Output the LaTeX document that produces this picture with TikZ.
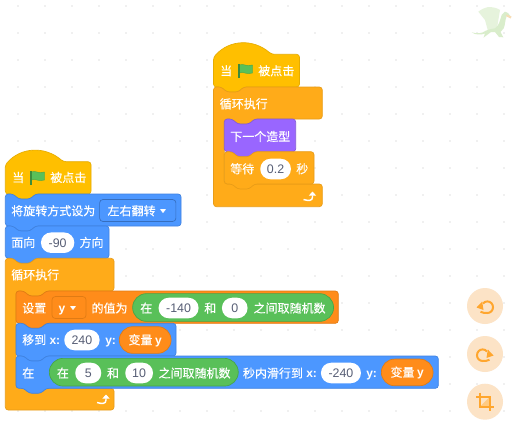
\documentclass[tikz,border=0pt]{standalone}
\usepackage{fontspec}
\setmainfont{Noto Sans CJK SC}[FakeBold=0.25]
\newfontfamily\numfont{Liberation Sans}
\usetikzlibrary{arrows.meta}
\definecolor{hatfill}{HTML}{FFBF00}
\definecolor{hatline}{HTML}{E6AC00}
\definecolor{controlfill}{HTML}{FFAB19}
\definecolor{controlline}{HTML}{E89C17}
\definecolor{motionfill}{HTML}{4C97FF}
\definecolor{motionline}{HTML}{3F82E0}
\definecolor{looksfill}{HTML}{9966FF}
\definecolor{looksline}{HTML}{855CD6}
\definecolor{varfill}{HTML}{FF8C1A}
\definecolor{varline}{HTML}{E07B14}
\definecolor{opfill}{HTML}{59C059}
\definecolor{opline}{HTML}{46A546}
\definecolor{numtext}{HTML}{575E75}
\definecolor{griddot}{HTML}{E2E2E2}
\definecolor{btnfill}{HTML}{FCE3C6}
\definecolor{btnicon}{HTML}{FFA62E}
\definecolor{dragonbody}{HTML}{D9EDCB}
\definecolor{dragonwing}{HTML}{E6F3DC}
\definecolor{dragonsnout}{HTML}{F8DDB5}
\tikzset{
  x=0.75pt, y=-0.75pt,
  hatblock/.style     = {fill=hatfill, draw=hatline, line width=0.5pt, rounded corners=2.2pt},
  controlblock/.style = {fill=controlfill, draw=controlline, line width=0.5pt, rounded corners=2.2pt},
  motionblock/.style  = {fill=motionfill, draw=motionline, line width=0.5pt, rounded corners=2.2pt},
  looksblock/.style   = {fill=looksfill, draw=looksline, line width=0.5pt, rounded corners=2.2pt},
  varblock/.style     = {fill=varfill, draw=varline, line width=0.5pt, rounded corners=2.2pt},
  lbl/.style      = {anchor=west, inner sep=0pt, text=white, font=\fontsize{9}{9}\selectfont,
                     text height=8pt, text depth=1.5pt},
  axislbl/.style  = {lbl, font=\fontsize{9}{9}\selectfont\numfont\bfseries},
  numpill/.style  = {anchor=west, rectangle, rounded corners=7.6pt, fill=white, inner sep=0pt,
                     minimum height=15.4pt, text=numtext, font=\fontsize{9.3}{9.3}\selectfont\numfont,
                     text height=6.5pt, text depth=0pt},
  opoval/.style   = {anchor=west, rectangle, rounded corners=10.4pt, fill=opfill, draw=opline,
                     line width=0.5pt, inner sep=0pt, minimum height=20.8pt},
  varoval/.style  = {anchor=west, rectangle, rounded corners=10pt, fill=varfill, draw=varline,
                     line width=0.5pt, inner sep=0pt, minimum width=38.8pt, minimum height=20pt,
                     text=white, font=\fontsize{9}{9}\selectfont, text height=8pt, text depth=1.5pt},
  menubox/.style  = {anchor=west, rectangle, rounded corners=2.5pt, line width=0.5pt, inner sep=0pt,
                     minimum height=16.5pt},
  flagpole/.style = {draw=opline!85!black, line width=1pt},
  flagcloth/.style= {fill=opfill, draw=opline, line width=0.3pt},
  looparrow/.style= {draw=white, line width=1.1pt, -{Triangle[length=3pt,width=5.2pt]}},
  menutip/.style  = {fill=white, draw=white, line width=0.4pt, line join=round},
  roundbtn/.style = {circle, fill=btnfill, inner sep=0pt, minimum size=27pt},
  iconline/.style = {draw=btnicon, line width=1.5pt},
}
% one block of a stack: left, top, right, bottom
\newcommand{\stackblock}[5]{
  \draw[#1] (#2,#3+10) -- (#2,#3) -- (#2+8,#3) -- (#2+13,#3+5) -- (#2+25,#3+5) -- (#2+30,#3)
    -- (#4,#3) -- (#4,#5) -- (#2+30,#5) -- (#2+25,#5+5) -- (#2+13,#5+5) -- (#2+8,#5)
    -- (#2,#5) -- cycle;
}
% hat block: left, top edge, right, bottom
\newcommand{\hatshape}[4]{
  \draw[hatblock] (#1,#2+8) -- (#1,#2+3) .. controls (#1+16,#2-15) and (#1+40,#2-15.5) .. (#1+58,#2)
    -- (#3,#2) -- (#3,#4) -- (#1+30,#4) -- (#1+25,#4+5) -- (#1+13,#4+5) -- (#1+8,#4)
    -- (#1,#4) -- cycle;
}
% loop block: left, top, right, header bottom, inner left, arm top, bottom
\newcommand{\loopshape}[7]{
  \draw[controlblock] (#1,#2+10) -- (#1,#2) -- (#1+8,#2) -- (#1+13,#2+5) -- (#1+25,#2+5) -- (#1+30,#2)
    -- (#3,#2) -- (#3,#4) -- (#5+30,#4) -- (#5+25,#4+5) -- (#5+13,#4+5) -- (#5+8,#4) -- (#5,#4)
    -- (#5,#6) -- (#3,#6) -- (#3,#7) -- (#1,#7) -- cycle;
}
% green flag with its left edge and top
\newcommand{\flagicon}[2]{
  \draw[flagcloth] (#1+1.5,#2+1) .. controls (#1+5,#2-1) and (#1+8,#2+3) .. (#1+14.5,#2+1)
    -- (#1+14.5,#2+9) .. controls (#1+8,#2+11) and (#1+5,#2+7) .. (#1+1.5,#2+9) -- cycle;
  \draw[flagpole] (#1+1,#2) -- (#1+1,#2+14);
}
% loop return arrow
\newcommand{\loopicon}[2]{
  \draw[looparrow] (#1,#2+7.5) .. controls (#1+5,#2+9) and (#1+9,#2+9) .. (#1+9,#2+5) -- (#1+9,#2-0.5);
}
\begin{document}
\begin{tikzpicture}
  \useasboundingbox (0,0) rectangle (517,425);
  \fill[white] (0,0) rectangle (517,425);

  % workspace dots
  \foreach \x in {18,45,...,504} {
    \foreach \y in {6,33,...,411} {
      \fill[griddot] (\x,\y) circle (0.7pt);
    }
  }

  % faint dragon
  \fill[dragonwing] (478.3,11.7) .. controls (482,9) and (485,7.5) .. (488,7)
    .. controls (493,7) and (497,8) .. (500,10) -- (497,28) -- (488,31) -- (485,20) -- cycle;
  \fill[dragonbody] (471.7,32.3) .. controls (475,33.5) and (480,33.5) .. (483,32.3)
    .. controls (486,30) and (491,29) .. (495,28.3) .. controls (499,26) and (500,20) .. (501.7,15)
    -- (505,11.7) -- (508,13) -- (511,17) -- (506.7,16) .. controls (505,20) and (505,26) .. (503.7,28.3)
    -- (500.5,32) -- (503.3,37.3) -- (499,37) -- (495,32) -- (491,32) -- (487,35) -- (483.5,37.7)
    -- (485,33.5) .. controls (481,35) and (475,35) .. (471.7,32.3) -- cycle;
  \fill[dragonsnout] (506,14.5) -- (511.5,16.5) -- (510.5,18.5) -- (506.5,16.5) -- cycle;

  % right hand stack
  \hatshape{213.5}{54.3}{299.5}{87}
  \loopshape{213.5}{87}{322.3}{119}{224.3}{184}{206.7}
  \stackblock{looksblock}{224.3}{119}{295.7}{151.7}
  \stackblock{controlblock}{224.3}{151.7}{314}{184}
  \node[lbl] (whenright) at (220,71) {当};
  \flagicon{238}{64}
  \node[lbl] (clickright) at (258,71) {被点击};
  \node[lbl] (foreverright) at (219.5,104) {循环执行};
  \node[lbl] (nextcostume) at (230,136.7) {下一个造型};
  \node[lbl] (waitword) at (230,169) {等待};
  \node[numpill, minimum width=23pt] (waitnum) at (260,169) {0.2};
  \node[lbl] (secword) at (296,169) {秒};
  \loopicon{303.5}{192}

  % left hand stack
  \hatshape{5.3}{161.7}{91}{194}
  \stackblock{motionblock}{5.3}{194}{181}{226}
  \stackblock{motionblock}{5.3}{226}{109}{258.3}
  \loopshape{5.3}{258.3}{114}{291}{16}{388.3}{410}
  \stackblock{varblock}{16}{291}{338.3}{323.3}
  \stackblock{motionblock}{16}{323.3}{176}{356}
  \stackblock{motionblock}{16}{356}{438.3}{388.3}
  \node[lbl] (whenleft) at (12,177.7) {当};
  \flagicon{30}{171}
  \node[lbl] (clickleft) at (50,177.7) {被点击};

  \node[lbl] (rotword) at (11,211) {将旋转方式设为};
  \node[menubox, fill=motionfill, draw=motionline!85!black, minimum width=57.2pt] (rotmenu) at (99.3,210.5) {};
  \node[lbl] (rotvalue) at (107.3,211) {左右翻转};
  \fill[menutip] (160.5,209.5) -- (165.5,209.5) -- (163,212.5) -- cycle;

  \node[lbl] (faceword) at (11,242.7) {面向};
  \node[numpill, minimum width=25pt] (facenum) at (40.7,242.7) {-90};
  \node[lbl] (dirword) at (79.3,242.7) {方向};
  \node[lbl] (foreverleft) at (11,275) {循环执行};

  % set y row
  \node[lbl] (setword) at (22,308.3) {设置};
  \node[menubox, fill=varfill, draw=varline, minimum width=25.5pt] (varmenu) at (51.7,307.5) {};
  \node[axislbl] (varname) at (58.3,308.3) {y};
  \fill[menutip] (70.5,306.5) -- (75.5,306.5) -- (73,309.5) -- cycle;
  \node[lbl] (toword) at (91.3,308.3) {的值为};
  \node[opoval, minimum width=150.7pt] (randoma) at (132.3,307.5) {};
  \node[lbl] (atword) at (140,308.3) {在};
  \node[numpill, minimum width=30pt] (lowa) at (158.3,308) {-140};
  \node[lbl] (anda) at (204,308.3) {和};
  \node[numpill, minimum width=19.2pt] (higha) at (221.7,308) {0};
  \node[lbl] (randa) at (253.3,308.3) {之间取随机数};

  % go to row
  \node[lbl] (goword) at (22,340) {移到};
  \node[axislbl] (gox) at (49.3,340) {x:};
  \node[numpill, minimum width=26.5pt] (xnum) at (64,340) {240};
  \node[axislbl] (goy) at (105,340) {y:};
  \node[varoval] (goyvar) at (119,340) {变量 {\numfont\bfseries y}};

  % glide row
  \node[lbl] (inword) at (22,373.3) {在};
  \node[opoval, minimum width=141.7pt] (randomb) at (49,372.2) {};
  \node[lbl] (atwordb) at (56.7,373.3) {在};
  \node[numpill, minimum width=19.5pt] (lowb) at (75,373) {5};
  \node[lbl] (andb) at (106.7,373.3) {和};
  \node[numpill, minimum width=20.8pt] (highb) at (125,373) {10};
  \node[lbl] (randb) at (158.3,373.3) {之间取随机数};
  \node[lbl] (glideword) at (242.7,373.3) {秒内滑行到};
  \node[axislbl] (glidex) at (306,373.3) {x:};
  \node[numpill, minimum width=30pt] (glidenum) at (320.7,373) {-240};
  \node[axislbl] (glidey) at (366,373.3) {y:};
  \node[varoval] (glideyvar) at (381,372.4) {变量 {\numfont\bfseries y}};
  \loopicon{97}{395}

  % undo, redo and crop buttons
  \node[roundbtn] (undobtn) at (485,306) {};
  \node[roundbtn] (redobtn) at (485,354) {};
  \node[roundbtn] (cropbtn) at (485,401.7) {};
  \begin{scope}[shift={(undobtn.center)}]
    \draw[iconline] (-2,-2.5) .. controls (-1,-4) and (1,-4.6) .. (2.3,-4.6)
      .. controls (5.6,-4.6) and (8,-2) .. (8,1.2) .. controls (8,4.5) and (5.5,7) .. (2.3,7)
      .. controls (0.5,7) and (-2.5,7) .. (-4.5,5.8);
    \fill[btnicon] (-8.5,1.5) -- (-2.8,-4.5) -- (-1.5,4) -- cycle;
  \end{scope}
  \begin{scope}[shift={(redobtn.center)}, xscale=-1]
    \draw[iconline] (-2,-2.5) .. controls (-1,-4) and (1,-4.6) .. (2.3,-4.6)
      .. controls (5.6,-4.6) and (8,-2) .. (8,1.2) .. controls (8,4.5) and (5.5,7) .. (2.3,7)
      .. controls (0.5,7) and (-2.5,7) .. (-4.5,5.8);
    \fill[btnicon] (-8.5,1.5) -- (-2.8,-4.5) -- (-1.5,4) -- cycle;
  \end{scope}
  \begin{scope}[shift={(cropbtn.center)}]
    \fill[btnicon!60] (-5,5) -- (5,-5) -- (5,5) -- cycle;
    \draw[iconline] (-5,-9) -- (-5,5) -- (9,5);
    \draw[iconline] (-9,-5) -- (5,-5) -- (5,9);
  \end{scope}
\end{tikzpicture}
\end{document}
